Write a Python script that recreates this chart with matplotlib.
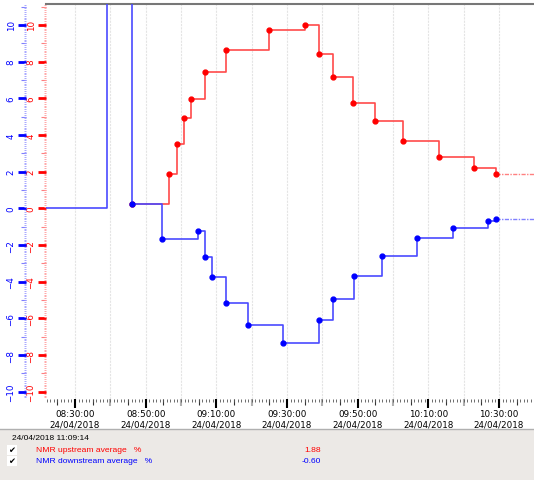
import numpy as np
import pandas as pd
import matplotlib
matplotlib.use('Agg')
import matplotlib.pyplot as plt
import matplotlib.dates as mdates
from matplotlib.ticker import MultipleLocator, NullFormatter
from matplotlib.patches import Rectangle

# --- data ---
day = '2018-04-24 '
up_times = ['08:46:03', '08:56:41', '08:58:47', '09:00:56', '09:02:55', '09:06:53',
            '09:12:49', '09:24:55', '09:35:01', '09:38:59', '09:42:56', '09:48:46',
            '09:55:00', '10:02:45', '10:13:02', '10:22:51', '10:29:05']
up_vals = [0.23, 1.88, 3.52, 4.90, 5.95, 7.44, 8.62, 9.71, 9.98, 8.41, 7.17, 5.77,
           4.75, 3.68, 2.81, 2.18, 1.88]

down_times = ['08:10:00', '08:39:00', '08:46:03', '08:54:43', '09:04:54', '09:06:53',
              '09:08:52', '09:12:49', '09:18:58', '09:28:52', '09:38:59', '09:42:56',
              '09:48:58', '09:56:59', '10:06:53', '10:16:59', '10:26:49', '10:29:05']
down_vals = [0.0, 40.0, 0.23, -1.69, -1.25, -2.67, -3.73, -5.16, -6.36, -7.34, -6.08,
             -4.94, -3.67, -2.58, -1.63, -1.06, -0.68, -0.60]

stamp = '24/04/2018 11:09:14'
names = ['NMR upstream average', 'NMR downstream average']
units = ['%', '%']
last_vals = [1.88, -0.60]

x_start = pd.Timestamp(day + '08:21:47')
x_end = pd.Timestamp(day + '10:39:54')

t_up = pd.to_datetime([day + t for t in up_times])
t_down = pd.to_datetime([day + t for t in down_times])

red = '#ff0000'
blue = '#0000ff'
red_line = '#ff4a4a'
blue_line = '#4a4aff'

fig = plt.figure(figsize=(5.34, 4.81), dpi=100)
ax = fig.add_axes([46/534, 81/481, 488/534, 395/481])

# vertical grid every 10 minutes
for g in pd.date_range(day + '08:30', day + '10:30', freq='10min'):
    ax.axvline(g, color='#e4e4e4', lw=0.8, ls=(0, (2, 1)), zorder=0)

# upstream (red)
ax.step(t_up, up_vals, where='post', color=red_line, lw=1.2, zorder=2)
ax.plot(t_up, up_vals, 'o', color=red, ms=3.5, zorder=3)
ax.plot([t_up[-1], x_end], [up_vals[-1], up_vals[-1]], color=red_line, lw=1,
        ls=(0, (3, 1, 1, 1)), alpha=0.7, zorder=2)

# downstream (blue)
ax.step(t_down, down_vals, where='post', color=blue_line, lw=1.2, zorder=4)
ax.plot(t_down[2:], down_vals[2:], 'o', color=blue, ms=3.5, zorder=5)
ax.plot([t_down[-1], x_end], [down_vals[-1], down_vals[-1]], color=blue_line, lw=1,
        ls=(0, (3, 1, 1, 1)), alpha=0.7, zorder=4)

ax.set_xlim(x_start, x_end)
ax.set_ylim(-10.39, 11.14)

# x axis
ax.xaxis.set_major_locator(mdates.MinuteLocator(byminute=[10, 30, 50]))
ax.xaxis.set_major_formatter(mdates.DateFormatter('%H:%M:%S\n%d/%m/%Y'))
ax.xaxis.set_minor_locator(mdates.MinuteLocator())
ax.tick_params(axis='x', which='major', length=6.5, width=1.5, color='black',
               labelsize=6.3, pad=1)
ax.tick_params(axis='x', which='minor', length=2.5, width=0.6, color='#555555')
for lab in ax.get_xticklabels():
    lab.set_linespacing(1.1)

# 5 minute / 10 minute medium ticks
sec5 = ax.secondary_xaxis('bottom')
sec5.xaxis.set_major_locator(mdates.MinuteLocator(byminute=[5, 15, 25, 35, 45, 55]))
sec5.xaxis.set_major_formatter(NullFormatter())
sec5.tick_params(length=4, width=0.8, color='#333333')
sec5.spines['bottom'].set_visible(False)
sec10 = ax.secondary_xaxis('bottom')
sec10.xaxis.set_major_locator(mdates.MinuteLocator(byminute=[0, 20, 40]))
sec10.xaxis.set_major_formatter(NullFormatter())
sec10.tick_params(length=5, width=1.5, color='#b0b0b0')
sec10.spines['bottom'].set_visible(False)

# red y axis (inner)
ax.yaxis.set_major_locator(MultipleLocator(2))
ax.yaxis.set_minor_locator(MultipleLocator(0.1))
ax.tick_params(axis='y', which='major', length=5.5, width=2, color=red,
               labelcolor=red, labelsize=6.3, pad=2)
ax.tick_params(axis='y', which='minor', length=1.6, width=0.6, color='#ff9a9a')
for lab in ax.get_yticklabels():
    lab.set_rotation(90)
    lab.set_va('center')
sec_r = ax.secondary_yaxis('left')
sec_r.yaxis.set_major_locator(MultipleLocator(1))
sec_r.yaxis.set_major_formatter(NullFormatter())
sec_r.tick_params(length=3.5, width=0.8, color='#ff8080')
sec_r.spines['left'].set_visible(False)

# blue y axis (outer)
ax_b = ax.twinx()
ax_b.set_ylim(ax.get_ylim())
ax_b.yaxis.set_ticks_position('left')
ax_b.spines['left'].set_position(('outward', 14.4))
ax_b.yaxis.set_major_locator(MultipleLocator(2))
ax_b.yaxis.set_minor_locator(MultipleLocator(0.1))
ax_b.tick_params(axis='y', which='major', length=5.5, width=2, color=blue,
                 labelcolor=blue, labelsize=6.3, pad=2, labelleft=True, labelright=False)
ax_b.tick_params(axis='y', which='minor', length=1.6, width=0.6, color='#9a9aff')
for lab in ax_b.get_yticklabels():
    lab.set_rotation(90)
    lab.set_va('center')
ax_b.patch.set_visible(False)
sec_b = ax.secondary_yaxis(-20/488)
sec_b.yaxis.set_major_locator(MultipleLocator(1))
sec_b.yaxis.set_major_formatter(NullFormatter())
sec_b.tick_params(length=3.5, width=0.8, color='#8080ff')
sec_b.spines['left'].set_visible(False)

for a in (ax, ax_b):
    for s in ('left', 'right', 'bottom'):
        a.spines[s].set_visible(False)
ax.spines['top'].set_color('#777777')
ax.spines['top'].set_linewidth(1.5)
ax_b.spines['top'].set_visible(False)

# bottom info panel
fig.patches.append(Rectangle((0, 0), 1, 51/481, transform=fig.transFigure,
                             facecolor='#ece9e6', edgecolor='none', zorder=-1))
fig.add_artist(plt.Line2D([0, 1], [51/481, 51/481], transform=fig.transFigure,
                          color='#b0b0b0', lw=1))
fig.text(12/534, (481-439)/481, stamp, fontsize=6, family='Liberation Sans',
         va='center', ha='left')
row_y = [451, 462]
row_c = [red, blue]
for i in range(len(names)):
    y = (481 - row_y[i]) / 481
    fig.patches.append(Rectangle((7/534, y - 5/481), 10/534, 10/481,
                                 transform=fig.transFigure, facecolor='white',
                                 edgecolor='none'))
    fig.text(12/534, y, '\u2714', fontsize=6, va='center', ha='center', color='black')
    fig.text(36/534, y, names[i] + '   ' + units[i], fontsize=6.1,
             family='Liberation Sans', color=row_c[i], va='center', ha='left')
    fig.text(321/534, y, f'{last_vals[i]:.2f}', fontsize=6.1,
             family='Liberation Sans', color=row_c[i], va='center', ha='right')

fig.savefig('out.png', dpi=100)
